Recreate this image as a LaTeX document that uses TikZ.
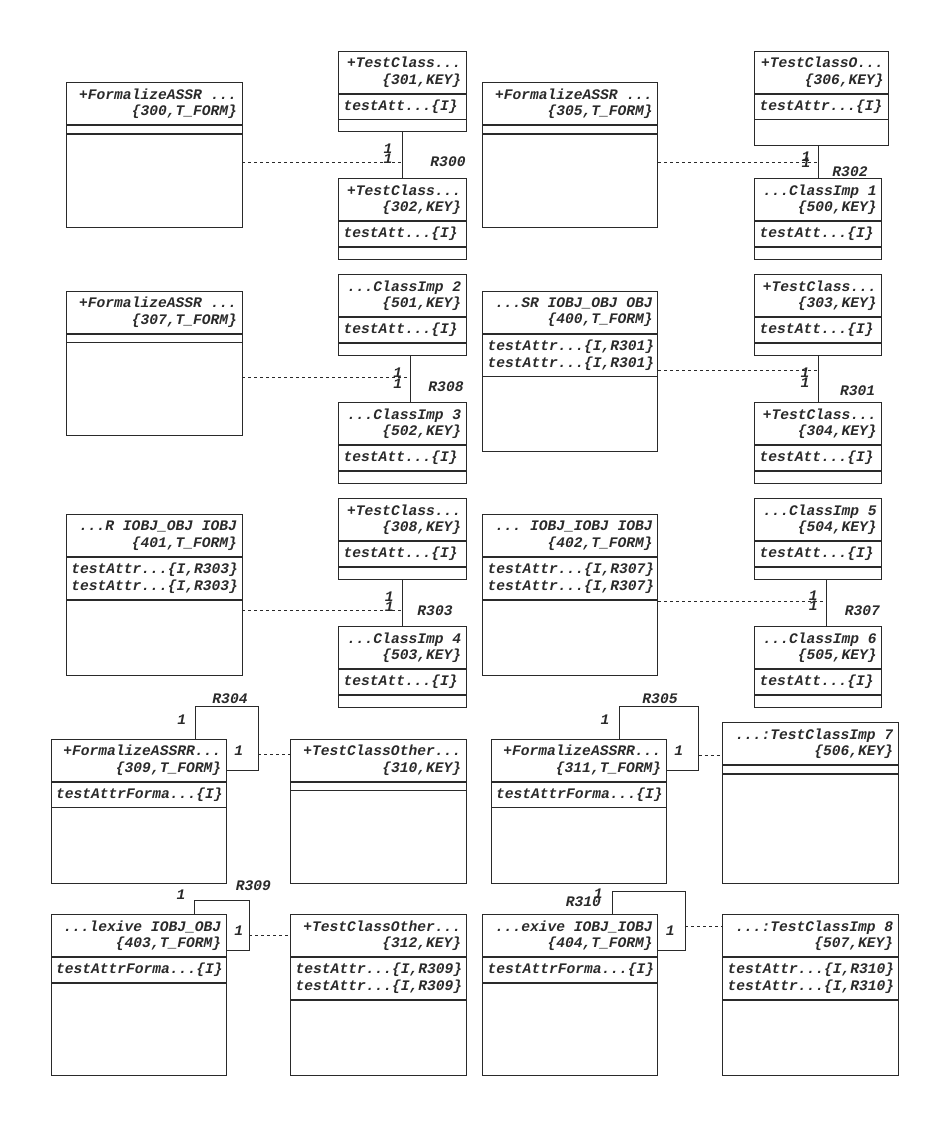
\documentclass[tikz,border=0pt]{standalone}
\usepackage{fontspec}
\usepackage{tikz}
\usetikzlibrary{positioning,calc}

\newfontfamily\monofont{Liberation Mono}
\newcommand{\umlfont}{\monofont\bfseries\itshape\fontsize{14.6}{16.7}\selectfont}
\newcommand{\gap}{\hbox to 0.6em{}}
\definecolor{ink}{HTML}{2A2A2A}

% class box: id, top left, width, name, attr height, attrs, ops height
\newcommand{\umlclass}[7]{%
	\node[cname=#3] (#1) at (#2) {#4};
	\node[cpart=#3, minimum height=#5, below=0pt of #1] (#1a) {#6};
	\node[cpart=#3, minimum height=#7, below=0pt of #1a] (#1o) {};
}

\begin{document}
\begin{tikzpicture}[x=1pt, y=-1pt, line width=0.8pt, color=ink,
	cls/.style={draw, inner xsep=0pt, inner ysep=0pt, font=\umlfont, minimum width=#1, text width=#1-10},
	cname/.style={cls=#1, align=right, minimum height=42, anchor=north west},
	cpart/.style={cls=#1, align=left},
	assoc/.style={dashed},
	lbl/.style={font=\umlfont, inner sep=0pt}]
	\useasboundingbox (0,0) rectangle (948,1124);

	% row 1
	\umlclass{c300}{66,82.3}{175.5}{+FormalizeASSR\gap...\\\{300,T\_FORM\}}{8}{}{93}
	\umlclass{c301}{338.3,50.7}{127.4}{+TestClass...\\\{301,KEY\}}{25}{testAtt...\{I\}}{12}
	\umlclass{c302}{338.3,178.3}{127.4}{+TestClass...\\\{302,KEY\}}{25}{testAtt...\{I\}}{12}
	\umlclass{c305}{482.3,82.3}{175}{+FormalizeASSR\gap...\\\{305,T\_FORM\}}{8}{}{93}
	\umlclass{c306}{754.3,50.7}{134}{+TestClassO...\\\{306,KEY\}}{25}{testAttr...\{I\}}{26}
	\umlclass{c500}{754.3,178.3}{127}{...ClassImp\gap 1\\\{500,KEY\}}{25}{testAtt...\{I\}}{12}

	% row 2
	\umlclass{c307}{66,290.7}{175.5}{+FormalizeASSR\gap...\\\{307,T\_FORM\}}{8}{}{93}
	\umlclass{c501}{338.3,274.3}{127.4}{...ClassImp\gap 2\\\{501,KEY\}}{25}{testAtt...\{I\}}{12}
	\umlclass{c502}{338.3,402.3}{127.4}{...ClassImp\gap 3\\\{502,KEY\}}{25}{testAtt...\{I\}}{12}
	\umlclass{c400}{482.3,290.7}{175}{...SR\gap IOBJ\_OBJ\gap OBJ\\\{400,T\_FORM\}}{42}{testAttr...\{I,R301\}\\testAttr...\{I,R301\}}{75}
	\umlclass{c303}{754.3,274.3}{127}{+TestClass...\\\{303,KEY\}}{25}{testAtt...\{I\}}{12}
	\umlclass{c304}{754.3,402.3}{127}{+TestClass...\\\{304,KEY\}}{25}{testAtt...\{I\}}{12}

	% row 3
	\umlclass{c401}{66,514.3}{175.5}{...R\gap IOBJ\_OBJ\gap IOBJ\\\{401,T\_FORM\}}{42}{testAttr...\{I,R303\}\\testAttr...\{I,R303\}}{75}
	\umlclass{c308}{338.3,498.3}{127.4}{+TestClass...\\\{308,KEY\}}{25}{testAtt...\{I\}}{12}
	\umlclass{c503}{338.3,626.3}{127.4}{...ClassImp\gap 4\\\{503,KEY\}}{25}{testAtt...\{I\}}{12}
	\umlclass{c402}{482.3,514.3}{175}{...\gap IOBJ\_IOBJ\gap IOBJ\\\{402,T\_FORM\}}{42}{testAttr...\{I,R307\}\\testAttr...\{I,R307\}}{75}
	\umlclass{c504}{754.3,498.3}{127}{...ClassImp\gap 5\\\{504,KEY\}}{25}{testAtt...\{I\}}{12}
	\umlclass{c505}{754.3,626.3}{127}{...ClassImp\gap 6\\\{505,KEY\}}{25}{testAtt...\{I\}}{12}

	% row 4
	\umlclass{c309}{50.7,738.7}{175}{+FormalizeASSRR...\\\{309,T\_FORM\}}{25}{testAttrForma...\{I\}}{76}
	\umlclass{c310}{290.3,738.7}{175.4}{+TestClassOther...\\\{310,KEY\}}{8}{}{93}
	\umlclass{c311}{490.7,738.7}{175}{+FormalizeASSRR...\\\{311,T\_FORM\}}{25}{testAttrForma...\{I\}}{76}
	\umlclass{c506}{722.3,722.3}{175.4}{...:TestClassImp\gap 7\\\{506,KEY\}}{8}{}{109}

	% row 5
	\umlclass{c403}{50.7,914.3}{175}{...lexive\gap IOBJ\_OBJ\\\{403,T\_FORM\}}{25}{testAttrForma...\{I\}}{92}
	\umlclass{c312}{290.3,914.3}{175.4}{+TestClassOther...\\\{312,KEY\}}{42}{testAttr...\{I,R309\}\\testAttr...\{I,R309\}}{75}
	\umlclass{c404}{482.3,914.3}{175}{...exive\gap IOBJ\_IOBJ\\\{404,T\_FORM\}}{25}{testAttrForma...\{I\}}{92}
	\umlclass{c507}{722.3,914.3}{175.4}{...:TestClassImp\gap 8\\\{507,KEY\}}{42}{testAttr...\{I,R310\}\\testAttr...\{I,R310\}}{75}

	% R300
	\draw (c301o.south) -- (c302.north);
	\coordinate (r300) at (402,162.3);
	\draw[assoc] (c300o.east |- r300) -- (r300);
	\node[lbl] (m300a) at (388,149) {1};
	\node[lbl] (m300b) at (388,158.5) {1};
	\node[lbl] (n300) at (448,162) {R300};

	% R302
	\draw (c500.north) -- (c500.north |- c306o.south);
	\coordinate (r302) at (817.8,162.3);
	\draw[assoc] (c305o.east |- r302) -- (r302);
	\node[lbl] (m302a) at (806,157) {1};
	\node[lbl] (m302b) at (806,163) {1};
	\node[lbl] (n302) at (850,171.7) {R302};

	% R308
	\draw ([xshift=8pt]c501o.south) -- ([xshift=8pt]c502.north);
	\coordinate (r308) at (410,377.3);
	\draw[assoc] (c307o.east |- r308) -- (r308);
	\node[lbl] (m308a) at (397.7,372.7) {1};
	\node[lbl] (m308b) at (397.7,383.3) {1};
	\node[lbl] (n308) at (446,386.7) {R308};

	% R301
	\draw (c303o.south) -- (c304.north);
	\coordinate (r301) at (817.8,370);
	\draw[assoc] (c400o.east |- r301) -- (r301);
	\node[lbl] (m301a) at (805,372.7) {1};
	\node[lbl] (m301b) at (805,382.7) {1};
	\node[lbl] (n301) at (857.7,391) {R301};

	% R303
	\draw (c308o.south) -- (c503.north);
	\coordinate (r303) at (402,610.3);
	\draw[assoc] (c401o.east |- r303) -- (r303);
	\node[lbl] (m303a) at (389.3,596.7) {1};
	\node[lbl] (m303b) at (389.3,606.7) {1};
	\node[lbl] (n303) at (435,611) {R303};

	% R307
	\draw ([xshift=8.5pt]c504o.south) -- ([xshift=8.5pt]c505.north);
	\coordinate (r307) at (826.3,601);
	\draw[assoc] (c402o.east |- r307) -- (r307);
	\node[lbl] (m307a) at (813.3,596) {1};
	\node[lbl] (m307b) at (813.3,606) {1};
	\node[lbl] (n307) at (862.3,611) {R307};

	% R304 (reflexive)
	\coordinate (k304) at (258.3,706.3);
	\coordinate (j304) at (258.3,754.3);
	\draw ([xshift=-31.4pt]c309.north east) |- (k304) |- ([yshift=-10.3pt]c309.east);
	\draw[assoc] (j304) -- (j304 -| c310.west);
	\node[lbl] (m304a) at (181.7,719.3) {1};
	\node[lbl] (m304b) at (238.7,750.7) {1};
	\node[lbl] (n304) at (230,698.3) {R304};

	% R305 (reflexive)
	\coordinate (k305) at (698.7,706.3);
	\coordinate (j305) at (698.7,755.3);
	\draw ([xshift=-47.4pt]c311.north east) |- (k305) |- ([yshift=-10.3pt]c311.east);
	\draw[assoc] (j305) -- (j305 -| c506.west);
	\node[lbl] (m305a) at (605,719.3) {1};
	\node[lbl] (m305b) at (678.7,750.7) {1};
	\node[lbl] (n305) at (660,698.3) {R305};

	% R309 (reflexive)
	\coordinate (k309) at (249.3,900.7);
	\coordinate (j309) at (249.3,935);
	\draw ([xshift=-32.4pt]c403.north east) |- (k309) |- ([yshift=-15pt]c403.east);
	\draw[assoc] (j309) -- (j309 -| c312.west);
	\node[lbl] (m309a) at (181,894.3) {1};
	\node[lbl] (m309b) at (238.7,930.7) {1};
	\node[lbl] (n309) at (253.3,885.3) {R309};

	% R310 (reflexive)
	\coordinate (k310) at (685.3,891.7);
	\coordinate (j310) at (685.3,926.3);
	\draw ([xshift=-46pt]c404.north east) |- (k310) |- ([yshift=-15pt]c404.east);
	\draw[assoc] (j310) -- (j310 -| c507.west);
	\node[lbl] (m310a) at (598.3,894) {1};
	\node[lbl] (m310b) at (670.3,931) {1};
	\node[lbl] (n310) at (583.3,901.7) {R310};
\end{tikzpicture}
\end{document}
